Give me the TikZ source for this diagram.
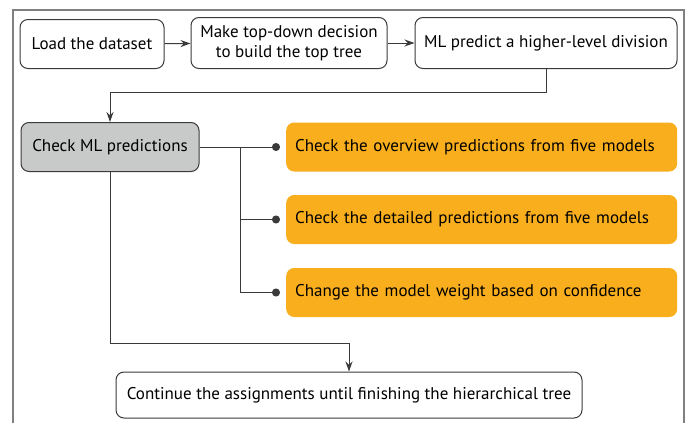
\documentclass[tikz,border=0pt]{standalone}
\usepackage{fontspec}
\setmainfont{PT Sans}
\usepackage{xcolor}
\usepackage{tikz}
\usetikzlibrary{arrows.meta,calc,positioning}

\definecolor{stepgray}{HTML}{C8C9C9}
\definecolor{steporange}{HTML}{F9AE1D}
\definecolor{linegray}{HTML}{3A3A3A}

\tikzset{
  flowbox/.style={draw=linegray,line width=1pt,rounded corners=8pt,align=center,inner sep=2pt,
    font=\fontsize{17}{20}\selectfont},
  checkbox/.style={flowbox,fill=stepgray},
  taskbox/.style={fill=steporange,rounded corners=8pt,anchor=west,inner xsep=9pt,
    minimum width=391pt,minimum height=49pt,text width=373pt,align=left,
    font=\fontsize{17}{20}\selectfont},
  flowline/.style={draw=linegray,line width=1pt},
  flowarrow/.style={flowline,-{Stealth[length=10pt,width=7pt]}},
  dotline/.style={flowline,-{Circle[length=8pt]}}
}

\begin{document}
\begin{tikzpicture}[x=1pt,y=-1pt]
\useasboundingbox (0,0) rectangle (686,423);
% frame
\draw [gray,line width=1.2pt] (13,423) -- (13,10) -- (684,10) -- (684,423);
% top row
\node [flowbox,minimum width=144pt,minimum height=49pt] (load) at (92,44) {Load the dataset};
\node [flowbox,minimum width=196pt,minimum height=51pt] (make) at (289,43) {Make top-down decision\\to build the top tree};
\node [flowbox,minimum width=262pt,minimum height=51pt] (ml) at (546,43) {ML predict a higher-level division};
\draw [flowarrow] (load) -- (make);
\draw [flowarrow] (make) -- (ml);
% check ML
\node [checkbox,minimum width=178pt,minimum height=49pt] (check) at (110,147) {Check ML predictions};
\coordinate (turn) at (546,92);
\draw [flowarrow] (ml.south) -- (turn) -| (check.north);
% orange tasks
\node [taskbox] (overview) at (286,147) {Check the overview predictions from five models};
\node [taskbox] (detail) at (286,219.5) {Check the detailed predictions from five models};
\node [taskbox] (weight) at (286,292.5) {Change the model weight based on confidence};
\coordinate (fork) at (240,147);
\draw [dotline] (check.east) -- ($(overview.west)+(-6,0)$);
\draw [dotline] (fork) |- ($(detail.west)+(-6,0)$);
\draw [dotline] (fork) |- ($(weight.west)+(-6,0)$);
% final
\node [flowbox,minimum width=466pt,minimum height=46pt] (final) at (349,395) {Continue the assignments until finishing the hierarchical tree};
\coordinate (bend) at (110,343);
\draw [flowarrow] (check.south) -- (bend) -| (final.north);
\end{tikzpicture}
\end{document}
